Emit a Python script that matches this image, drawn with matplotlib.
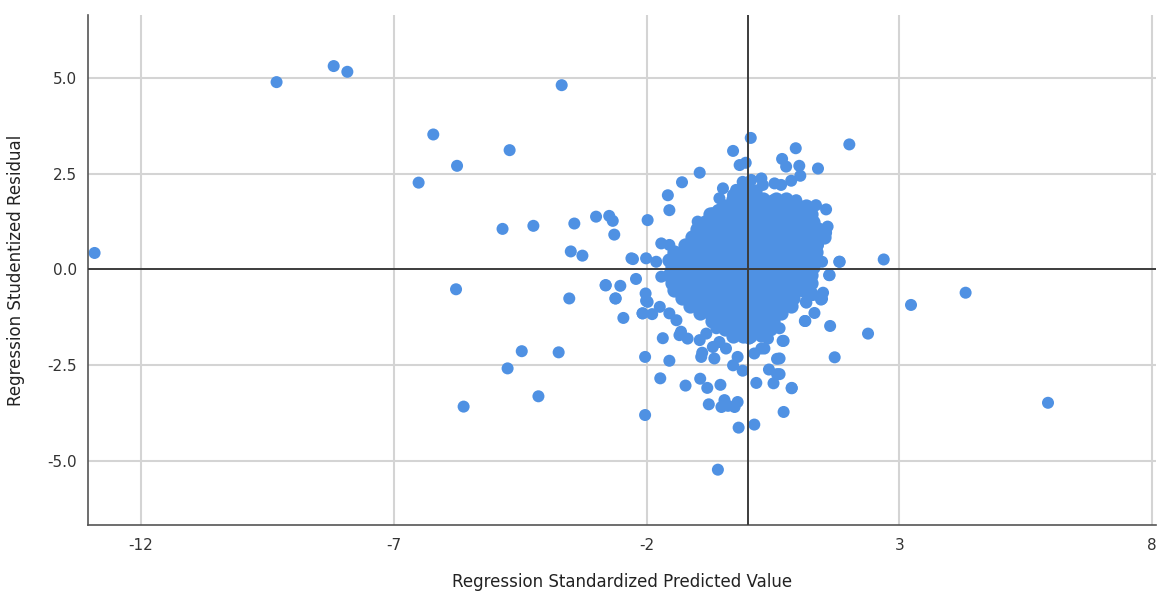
import matplotlib
matplotlib.use("Agg")
from matplotlib import pyplot as plt

#DATA------------------------------------------------------------------------------------------------------------------#
x_name = "Regression Standardized Predicted Value"
y_name = "Regression Studentized Residual"

x_ticks = [-12, -7, -2, 3, 8]
y_ticks = [-5.0, -2.5, 0.0, 2.5, 5.0]

# Scattered points (outside the dense centre) #
outlier_x = [-12.92, -9.32, -8.19, -7.92, -3.68, -6.22, -4.71, -5.75, -6.51, -4.85,
             -4.24, -3.43, -3.00, -2.74, -2.67, -2.64, -3.50, -3.27, -2.27, -5.77,
             -3.53, -2.81, -2.52, -2.21, -2.62, -2.46, -2.08, -2.02, -2.01, -4.47,
             -3.74, -4.75, -4.14, -5.62, -2.03, -2.03,
             2.69, 4.31, 3.23, 5.94, 2.38, 1.72, 1.63, 1.81, 1.61, 1.47,
             0.87, 0.71, 1.49, 1.47, 1.32, 1.13, 1.15, 1.28, 1.54, 1.37,
             0.71, 0.63, 0.63,
             0.06, -0.29, 2.01, 0.95, 0.68, 0.76, 1.02, 1.39, 1.04, 0.86,
             -0.16, -0.04, -0.95, -1.30, -1.58, -1.55, -1.98, 1.55, 1.58, 1.55,
             1.82, -2.30, -2.01, -1.81, 0.27, 0.30, 0.53, 0.66, 0.07, -0.10,
             -0.49, -0.56, -0.52, -0.23, -0.29, -0.99, -0.95, -0.69, -0.59,
             -1.71, -1.55, 1.35, 1.29, 1.39, 1.39, 0.96, 0.50,
             -0.59, -0.18, 0.13, -0.77, -0.52, -0.39, -0.26, -0.20, -0.46,
             -1.23, -0.94, -0.80, -0.54, -1.73, 0.17, 0.51, 0.87,
             0.58, 0.42, 0.58, -1.55, -1.68, -0.92, -0.66, -0.90,
             -0.29, -0.10, -0.20, 0.13, 0.33, 0.40, 0.69, 0.63,
             1.62, 1.29, 1.45, 1.16, 1.14,
             -2.81, -2.61, -1.98, -2.08, -1.89, -1.74, -1.71,
             -1.55, -1.41, -1.32, -1.19, -1.35,
             -0.95, -0.82, -0.62, -0.56, -0.43, -0.69,
             -0.12, 0.03, 0.27, 0.47, 0.27]
outlier_y = [0.43, 4.90, 5.32, 5.17, 4.82, 3.53, 3.12, 2.71, 2.27, 1.06,
             1.14, 1.20, 1.38, 1.40, 1.27, 0.91, 0.47, 0.36, 0.27, -0.52,
             -0.76, -0.42, -0.43, -0.25, -0.76, -1.27, -1.15, -0.63, -0.82, -2.14,
             -2.17, -2.59, -3.32, -3.59, -2.29, -3.81,
             0.26, -0.61, -0.93, -3.49, -1.68, -2.30, -1.48, 0.20, -0.15, 0.20,
             -3.11, -3.73, -0.61, -0.77, -1.14, -1.35, -0.85, -0.63, 0.96, 0.66,
             -1.87, -2.33, -2.74,
             3.44, 3.10, 3.27, 3.17, 2.89, 2.69, 2.71, 2.64, 2.45, 2.32,
             2.73, 2.79, 2.53, 2.28, 1.94, 1.55, 1.29, 1.57, 1.12, 0.96,
             0.20, 0.29, 0.29, 0.20, 2.38, 2.21, 2.25, 2.21, 2.34, 2.29,
             2.12, 1.86, 1.60, 2.08, 1.95, 1.25, 1.03, 1.47, 1.55,
             0.68, 0.64, 1.68, 1.29, 0.98, 0.64, 1.81, 1.81,
             -5.24, -4.14, -4.06, -3.53, -3.60, -3.57, -3.60, -3.47, -3.42,
             -3.04, -2.86, -3.10, -3.02, -2.85, -2.97, -2.98, -3.10,
             -2.74, -2.62, -2.34, -2.39, -1.80, -2.29, -2.33, -2.18,
             -2.51, -2.65, -2.29, -2.20, -2.07, -1.81, -1.87, -1.54,
             -0.15, -0.67, -0.79, -0.87, -1.35,
             -0.41, -0.76, -0.85, -1.15, -1.17, -0.98, -0.19,
             -1.15, -1.33, -1.63, -1.81, -1.72,
             -1.85, -1.68, -1.54, -1.90, -2.07, -2.03,
             -1.72, -1.81, -1.76, -1.59, -2.07]

# Dense centre, read row by row (residual level, predicted values on that row) #
cloud_levels = [2.05, 1.85, 1.65, 1.45, 1.25, 1.05, 0.85, 0.65, 0.45, 0.25, 0.05,
                -0.15, -0.35, -0.55, -0.75, -0.95, -1.15, -1.35, -1.55, -1.75]
cloud_rows = [
    [-0.2, 0.0, 0.15],
    [-0.3, -0.1, 0.1, 0.3, 0.55, 0.75],
    [-0.45, -0.2, 0.0, 0.2, 0.4, 0.6, 0.8, 1.0, 1.15],
    [-0.75, -0.5, -0.3, -0.1, 0.1, 0.3, 0.5, 0.7, 0.9, 1.1, 1.25],
    [-0.85, -0.65, -0.45, -0.25, -0.05, 0.15, 0.35, 0.55, 0.75, 0.95, 1.15, 1.3],
    [-1.0, -0.8, -0.6, -0.4, -0.2, 0.0, 0.2, 0.4, 0.6, 0.8, 1.0, 1.2, 1.4],
    [-1.1, -0.9, -0.7, -0.5, -0.3, -0.1, 0.1, 0.3, 0.5, 0.7, 0.9, 1.1, 1.3, 1.5],
    [-1.25, -1.05, -0.85, -0.65, -0.45, -0.25, -0.05, 0.15, 0.35, 0.55, 0.75, 0.95, 1.15, 1.35],
    [-1.45, -1.25, -1.05, -0.85, -0.65, -0.45, -0.25, -0.05, 0.15, 0.35, 0.55, 0.75, 0.95, 1.15, 1.35],
    [-1.55, -1.35, -1.15, -0.95, -0.75, -0.55, -0.35, -0.15, 0.05, 0.25, 0.45, 0.65, 0.85, 1.05, 1.25],
    [-1.5, -1.3, -1.1, -0.9, -0.7, -0.5, -0.3, -0.1, 0.1, 0.3, 0.5, 0.7, 0.9, 1.1, 1.3],
    [-1.55, -1.35, -1.15, -0.95, -0.75, -0.55, -0.35, -0.15, 0.05, 0.25, 0.45, 0.65, 0.85, 1.05, 1.25],
    [-1.5, -1.3, -1.1, -0.9, -0.7, -0.5, -0.3, -0.1, 0.1, 0.3, 0.5, 0.7, 0.9, 1.1, 1.25],
    [-1.45, -1.25, -1.05, -0.85, -0.65, -0.45, -0.25, -0.05, 0.15, 0.35, 0.55, 0.75, 0.95, 1.1],
    [-1.3, -1.1, -0.9, -0.7, -0.5, -0.3, -0.1, 0.1, 0.3, 0.5, 0.7, 0.9],
    [-1.15, -0.95, -0.75, -0.55, -0.35, -0.15, 0.05, 0.25, 0.45, 0.65, 0.85],
    [-0.95, -0.75, -0.55, -0.35, -0.15, 0.05, 0.25, 0.45, 0.65],
    [-0.7, -0.5, -0.3, -0.1, 0.1, 0.3, 0.5],
    [-0.45, -0.25, -0.05, 0.15, 0.35],
    [-0.3, -0.1, 0.05],
]

point_color = "#4F91E3"

#PLOTTING--------------------------------------------------------------------------------------------------------------#
fig = plt.figure(figsize=(11.58, 5.94), dpi=100)
ax = fig.add_axes([0.076, 0.116, 0.922, 0.859])

# Grid and reference lines #
for xt in x_ticks:
    ax.axvline(xt, color="#d4d4d4", lw=1.5, zorder=0)
for yt in y_ticks:
    if yt != 0:
        ax.axhline(yt, color="#d4d4d4", lw=1.5, zorder=0)
ax.axhline(0, color="#3c3c3c", lw=1.4, zorder=3)
ax.axvline(0, color="#3c3c3c", lw=1.4, zorder=3)

# Points #
cloud_x = []
cloud_y = []
for level, row in zip(cloud_levels, cloud_rows):
    for v in row:
        cloud_x.append(v)
        cloud_y.append(level)
ax.scatter(cloud_x, cloud_y, s=75, color=point_color, edgecolors=point_color,
           linewidths=1.6, zorder=2)
ax.scatter(outlier_x, outlier_y, s=75, color=point_color, edgecolors="none", zorder=2)

ax.set_xlim(-13.05, 8.07)
ax.set_ylim(-6.69, 6.66)
ax.set_xticks(x_ticks)
ax.set_xticklabels([str(v) for v in x_ticks])
ax.set_yticks(y_ticks)
ax.set_yticklabels(["%.1f" % v for v in y_ticks])
ax.tick_params(length=0, labelsize=11, labelcolor="#333333")
ax.tick_params(axis="x", pad=9)
ax.tick_params(axis="y", pad=8)

for side in ["top", "right"]:
    ax.spines[side].set_visible(False)
for side in ["left", "bottom"]:
    ax.spines[side].set_color("#555555")
    ax.spines[side].set_linewidth(1.2)

ax.set_xlabel(x_name, fontsize=12, color="#222222", labelpad=15)
ax.set_ylabel(y_name, fontsize=12, color="#222222", labelpad=16)

fig.savefig("out.png", dpi=100)
